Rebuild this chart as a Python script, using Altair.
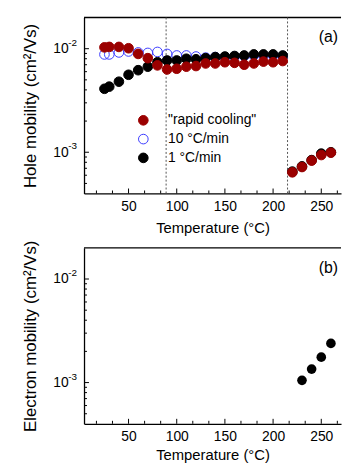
import altair as alt
import pandas as pd

# ---------------- data ----------------
temps_low = [25, 30, 40, 50, 60, 70, 80, 90, 100, 110, 120, 130, 140, 150, 160, 170, 180, 190, 200, 210]
rapid_low = [0.0103, 0.0104, 0.0104, 0.0101, 0.0089, 0.0081, 0.0069, 0.0063, 0.0064, 0.0067,
             0.0068, 0.0072, 0.0072, 0.0074, 0.0073, 0.0070, 0.0072, 0.0075, 0.0074, 0.0076]
ten_low = [0.0088, 0.0088, 0.0092, 0.0094, 0.0092, 0.0091, 0.0093, 0.0089, 0.0086, 0.0086,
           0.0084, 0.0082, 0.0083, 0.0083, 0.0084, 0.0085, 0.0086, 0.0086, 0.0086, 0.0085]
one_low = [0.0041, 0.0043, 0.0048, 0.0056, 0.0062, 0.0067, 0.0074, 0.0077, 0.0077, 0.0080,
           0.0079, 0.0081, 0.0083, 0.0084, 0.0085, 0.0086, 0.0088, 0.0088, 0.0088, 0.0086]
temps_high = [220, 230, 240, 250, 260]
rapid_high = [0.00064, 0.00072, 0.00083, 0.00094, 0.00099]
one_high = [0.00065, 0.00073, 0.00084, 0.00097, 0.00100]
temps_elec = [230, 240, 250, 260]
elec_one = [0.00105, 0.00135, 0.00176, 0.00239]

series_names = ['"rapid cooling"', "10 °C/min", "1 °C/min"]
transition_temps = [89, 215]

x_major = [50, 100, 150, 200, 250]
x_minor = [16.67, 33.33, 66.67, 83.33, 116.67, 133.33, 166.67, 183.33, 216.67, 233.33, 266.67]
y_major = [0.001, 0.01]
y_exp = ["-3", "-2"]
y_minor = [0.0005, 0.0006, 0.0007, 0.0008, 0.0009,
           0.002, 0.003, 0.004, 0.005, 0.006, 0.007, 0.008, 0.009]

# ---------------- styling ----------------
FONT = "Liberation Sans"
W, H = 260, 178
XDOM = [3.8, 270.5]
YDOM = [0.0004, 0.02]
RED, BLUE, BLACK = "#9b0000", "#3b3bff", "#000000"

xs = alt.Scale(domain=XDOM, nice=False, zero=False)
ys = alt.Scale(type="log", domain=YDOM, nice=False)

# hole data table: drawing order blue -> black -> red
rows = []
for t, v in zip(temps_low, ten_low):
    rows.append({"T": t, "mu": v, "series": series_names[1]})
for t, v in zip(temps_low + temps_high, one_low + one_high):
    rows.append({"T": t, "mu": v, "series": series_names[2]})
for t, v in zip(temps_low + temps_high, rapid_low + rapid_high):
    rows.append({"T": t, "mu": v, "series": series_names[0]})
hole_df = pd.DataFrame(rows)
elec_df = pd.DataFrame({"T": temps_elec, "mu": elec_one})


def x_axis(title_pad):
    return alt.Axis(values=x_major, ticks=False, grid=False, labelFontSize=14,
                    labelPadding=6, title="Temperature (°C)", titleFontSize=15,
                    titleFontWeight="normal", titlePadding=title_pad,
                    domainColor="black", domainWidth=1.3, labelColor="black",
                    titleColor="black")


def y_axis(title):
    return alt.Axis(values=y_major, labelExpr="'10'", ticks=False, grid=False,
                    labelFontSize=14, labelPadding=16, title=title, titleFontSize=17,
                    titleFontWeight="normal", titlePadding=14, domainColor="black",
                    domainWidth=1.3, labelColor="black", titleColor="black")


def panel(point_layers, xa, ya):
    xmaj = alt.Chart(pd.DataFrame({"T": x_major})).mark_rule(color="black", strokeWidth=1).encode(
        x=alt.X("T:Q", scale=xs, axis=xa), y=alt.value(H), y2=alt.value(H - 5))
    xmin = alt.Chart(pd.DataFrame({"T": x_minor})).mark_rule(color="black", strokeWidth=1).encode(
        x=alt.X("T:Q", scale=xs, axis=xa), y=alt.value(H), y2=alt.value(H - 3))
    ymaj = alt.Chart(pd.DataFrame({"mu": y_major})).mark_rule(color="black", strokeWidth=1).encode(
        y=alt.Y("mu:Q", scale=ys, axis=ya), x=alt.value(0), x2=alt.value(5))
    ymin = alt.Chart(pd.DataFrame({"mu": y_minor})).mark_rule(color="black", strokeWidth=1).encode(
        y=alt.Y("mu:Q", scale=ys, axis=ya), x=alt.value(0), x2=alt.value(3))
    top = alt.Chart(pd.DataFrame({"a": [0]})).mark_rule(color="black", strokeWidth=1.3).encode(
        x=alt.value(0), x2=alt.value(W), y=alt.value(0))
    exps = alt.Chart(pd.DataFrame({"mu": y_major, "e": y_exp})).mark_text(
        align="left", baseline="middle", fontSize=10, dy=-6, color="black").encode(
        y=alt.Y("mu:Q", scale=ys, axis=ya), x=alt.value(-16), text="e:N")
    return alt.layer(xmaj, xmin, ymaj, ymin, top, exps, *point_layers).properties(width=W, height=H)


leg = alt.Legend(title=None, orient="none", legendX=53, legendY=97, symbolType="circle",
                 symbolSize=95, symbolStrokeWidth=1, labelFontSize=14, labelOffset=18,
                 rowPadding=5, padding=0, labelColor="black")

xa_top = x_axis(8)
ya_top = y_axis("Hole mobility (cm²/Vs)")
xa_bot = x_axis(4)
ya_bot = y_axis("Electron mobility (cm²/Vs)")

dotted = alt.Chart(pd.DataFrame({"T": transition_temps})).mark_rule(
    color="#555555", strokeWidth=1, strokeDash=[2, 2]).encode(
    x=alt.X("T:Q", scale=xs, axis=xa_top), y=alt.value(0), y2=alt.value(H))

hole_pts = alt.Chart(hole_df).mark_circle(size=95, opacity=1, strokeWidth=1).encode(
    x=alt.X("T:Q", scale=xs, axis=xa_top),
    y=alt.Y("mu:Q", scale=ys, axis=ya_top),
    fill=alt.Fill("series:N", scale=alt.Scale(domain=series_names, range=[RED, "transparent", BLACK]), legend=leg),
    stroke=alt.Stroke("series:N", scale=alt.Scale(domain=series_names, range=[RED, BLUE, BLACK]), legend=leg),
)

label_a = alt.Chart(pd.DataFrame({"s": ["(a)"]})).mark_text(
    align="right", baseline="middle", fontSize=16, color="black").encode(
    x=alt.value(257), y=alt.value(20), text="s:N")

top_chart = panel([dotted, hole_pts, label_a], xa_top, ya_top)

elec_pts = alt.Chart(elec_df).mark_circle(size=95, opacity=1, color=BLACK).encode(
    x=alt.X("T:Q", scale=xs, axis=xa_bot),
    y=alt.Y("mu:Q", scale=ys, axis=ya_bot),
)
label_b = alt.Chart(pd.DataFrame({"s": ["(b)"]})).mark_text(
    align="right", baseline="middle", fontSize=16, color="black").encode(
    x=alt.value(257), y=alt.value(20), text="s:N")

bottom_chart = panel([elec_pts, label_b], xa_bot, ya_bot)

chart = alt.vconcat(top_chart, bottom_chart, spacing=2).properties(
    padding={"left": 20, "top": 13, "right": 0, "bottom": 0}
).configure(font=FONT).configure_view(stroke="transparent")

chart.save("out.html", embed_options={"renderer": "svg", "actions": False})
